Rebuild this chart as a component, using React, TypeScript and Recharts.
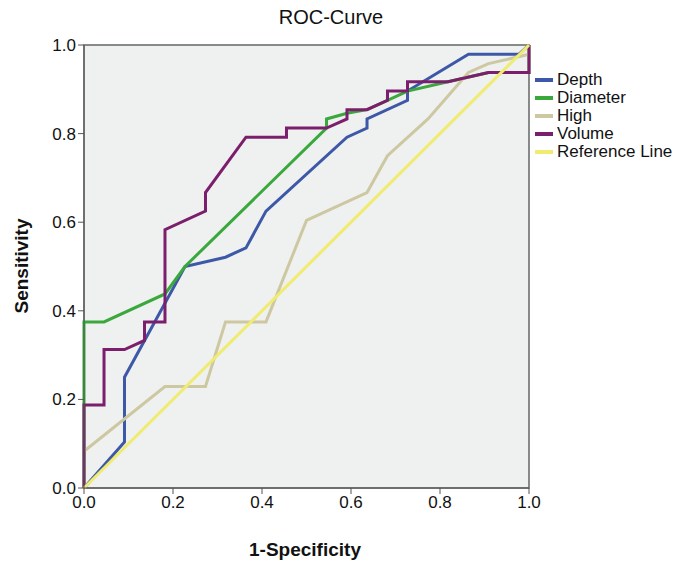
import { LineChart, Line, XAxis, YAxis, ReferenceArea } from 'recharts';

// false positive rate (1-specificity) / sensitivity pairs
const depthFpr = [0, 0.091, 0.091, 0.227, 0.318, 0.364, 0.409, 0.591, 0.636, 0.636, 0.727, 0.727, 0.864, 0.977, 1];
const depthTpr = [0, 0.104, 0.25, 0.5, 0.521, 0.542, 0.625, 0.792, 0.8125, 0.833, 0.875, 0.896, 0.979, 0.979, 1];

const diameterFpr = [0, 0, 0.045, 0.182, 0.227, 0.545, 0.545, 0.591, 0.636, 0.682, 0.727, 0.818, 0.909, 1, 1];
const diameterTpr = [0, 0.375, 0.375, 0.438, 0.5, 0.8125, 0.833, 0.846, 0.854, 0.875, 0.896, 0.917, 0.938, 0.938, 1];

const highFpr = [0, 0.182, 0.273, 0.318, 0.409, 0.5, 0.636, 0.682, 0.773, 0.864, 0.909, 1, 1];
const highTpr = [0.083, 0.229, 0.229, 0.375, 0.375, 0.604, 0.667, 0.75, 0.833, 0.938, 0.958, 0.979, 1];

const volumeFpr = [0, 0, 0.045, 0.045, 0.091, 0.136, 0.136, 0.182, 0.182, 0.273, 0.273, 0.364, 0.455, 0.455, 0.545, 0.591, 0.591, 0.636, 0.682, 0.682, 0.727, 0.727, 0.818, 0.909, 1, 1];
const volumeTpr = [0, 0.1875, 0.1875, 0.3125, 0.3125, 0.333, 0.375, 0.375, 0.583, 0.625, 0.667, 0.792, 0.792, 0.8125, 0.8125, 0.833, 0.854, 0.854, 0.875, 0.896, 0.896, 0.917, 0.917, 0.938, 0.938, 1];

const referenceFpr = [0, 1];
const referenceTpr = [0, 1];

const ticks = [0, 0.2, 0.4, 0.6, 0.8, 1.0];

const toPoints = (xs: number[], ys: number[]) => xs.map((x, i) => ({ x, y: ys[i] }));

const series = [
  { name: 'Depth', color: '#3d58a7', data: toPoints(depthFpr, depthTpr) },
  { name: 'Diameter', color: '#3aa83c', data: toPoints(diameterFpr, diameterTpr) },
  { name: 'High', color: '#cdc8a1', data: toPoints(highFpr, highTpr) },
  { name: 'Volume', color: '#7b1f6c', data: toPoints(volumeFpr, volumeTpr) },
  { name: 'Reference Line', color: '#efec70', data: toPoints(referenceFpr, referenceTpr) },
];

const font = '"Liberation Sans", Arial, sans-serif';
const tickStyle = { fontSize: 17, fill: '#111', fontFamily: font };

export default function App() {
  return (
    <div style={{ position: 'absolute', left: 0, top: 0, width: 687, height: 561, background: '#fff', fontFamily: font }}>
      <div style={{ position: 'absolute', left: 0, width: 662, top: 6, textAlign: 'center', fontSize: 20, color: '#111' }}>
        ROC-Curve
      </div>
      <LineChart width={687} height={561} margin={{ top: 45, right: 158, bottom: 43, left: 44 }}>
        <XAxis
          dataKey="x"
          type="number"
          domain={[0, 1]}
          ticks={ticks}
          tickFormatter={(v: number) => v.toFixed(1)}
          tick={tickStyle}
          tickSize={6}
          tickMargin={2}
          height={30}
          stroke="#555"
          allowDuplicatedCategory={false}
        />
        <YAxis
          dataKey="y"
          type="number"
          domain={[0, 1]}
          ticks={ticks}
          tickFormatter={(v: number) => v.toFixed(1)}
          tick={tickStyle}
          tickSize={6}
          tickMargin={2}
          width={40}
          stroke="#555"
        />
        <ReferenceArea x1={0} x2={1} y1={0} y2={1} fill="#eff0f0" fillOpacity={1} stroke="#666" strokeWidth={1.5} />
        {series.map(s => (
          <Line
            key={s.name}
            data={s.data}
            dataKey="y"
            name={s.name}
            type="linear"
            stroke={s.color}
            strokeWidth={3}
            dot={false}
            isAnimationActive={false}
          />
        ))}
      </LineChart>
      <div
        style={{
          position: 'absolute',
          left: 22,
          top: 266,
          transform: 'translate(-50%, -50%) rotate(-90deg)',
          fontSize: 19,
          fontWeight: 'bold',
          color: '#111',
          whiteSpace: 'nowrap',
        }}
      >
        Sensitivity
      </div>
      <div style={{ position: 'absolute', left: 0, width: 610, top: 539, textAlign: 'center', fontSize: 19, fontWeight: 'bold', color: '#111' }}>
        1-Specificity
      </div>
      <div style={{ position: 'absolute', left: 535, top: 71 }}>
        {series.map(s => (
          <div key={s.name} style={{ display: 'flex', alignItems: 'center', height: 18, fontSize: 17, color: '#111' }}>
            <span style={{ display: 'inline-block', width: 18, height: 3.5, background: s.color, marginRight: 4 }} />
            <span>{s.name}</span>
          </div>
        ))}
      </div>
    </div>
  );
}
